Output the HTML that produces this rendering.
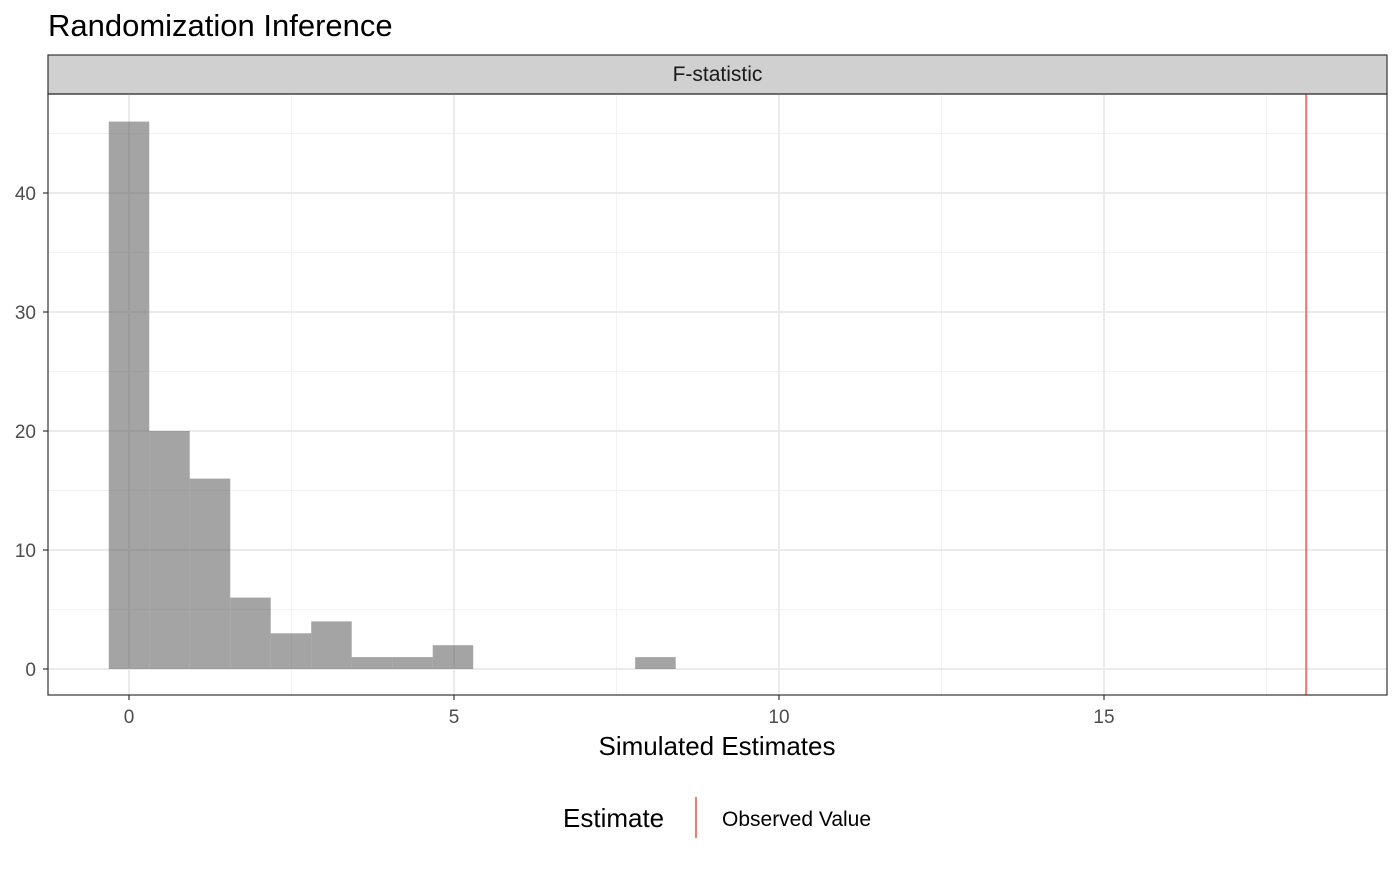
<!DOCTYPE html>
<html><head><meta charset="utf-8"><style>
body{margin:0;background:#fff;font-family:"Liberation Sans",Arial,sans-serif}
</style></head><body>
<svg id="chart" width="1400" height="865" xmlns="http://www.w3.org/2000/svg" font-family="Liberation Sans, Arial, sans-serif">
<text x="48" y="36" font-size="31" fill="#000">Randomization Inference</text>
<rect x="48" y="55" width="1339" height="39" fill="#d0d0d0" stroke="#333" stroke-width="1.2"/>
<text x="717.5" y="81" font-size="21" text-anchor="middle" fill="#1a1a1a">F-statistic</text>
<g id="grid"></g>
<g id="bars"></g>
<g id="obs"></g>
<rect x="48" y="94" width="1339" height="601" fill="none" stroke="#333" stroke-width="1.2"/>
<g id="axes"></g>
<text x="717" y="755" font-size="26" text-anchor="middle" fill="#000">Simulated Estimates</text>
<g>
<text x="563" y="827" font-size="26" fill="#000">Estimate</text>
<line x1="696" y1="797" x2="696" y2="838" stroke="#f8766d" stroke-width="2"/>
<text x="722" y="826" font-size="21" fill="#000">Observed Value</text>
</g>
</svg>
<script>
const binStart = -0.3115;
const binWidth = 0.623;
const counts = [46,20,16,6,3,4,1,1,2,0,0,0,0,1];
const xTicks = [0,5,10,15];
const yTicks = [0,10,20,30,40];
const xMinor = [2.5,7.5,12.5,17.5];
const yMinor = [5,15,25,35,45];
const observed = [18.11];
const NS='http://www.w3.org/2000/svg';
const X=v=>129+v*65, Y=v=>669-v*11.9;
function mk(tag,attrs,parent){const e=document.createElementNS(NS,tag);for(const k in attrs)e.setAttribute(k,attrs[k]);document.getElementById(parent).appendChild(e);return e;}
xMinor.forEach(v=>{const e=mk('line',{x1:X(v),x2:X(v),y1:94,y2:695,stroke:'#f2f2f2','stroke-width':1},'grid');

});
yMinor.forEach(v=>{const e=mk('line',{x1:48,x2:1387,y1:Y(v),y2:Y(v),stroke:'#f2f2f2','stroke-width':1},'grid');

});
xTicks.forEach(v=>{const e=mk('line',{x1:X(v),x2:X(v),y1:94,y2:695,stroke:'#ebebeb','stroke-width':2},'grid');


const t=mk('line',{x1:X(v),x2:X(v),y1:695,y2:700,stroke:'#333','stroke-width':1.2},'axes');


const l=mk('text',{x:X(v),y:723,'font-size':19,'text-anchor':'middle',fill:'#4d4d4d'},'axes');l.textContent=v;

});
yTicks.forEach(v=>{const e=mk('line',{x1:48,x2:1387,y1:Y(v),y2:Y(v),stroke:'#ebebeb','stroke-width':2},'grid');


const t=mk('line',{x1:43,x2:48,y1:Y(v),y2:Y(v),stroke:'#333','stroke-width':1.2},'axes');


const l=mk('text',{x:36,y:Y(v)+7,'font-size':19,'text-anchor':'end',fill:'#4d4d4d'},'axes');l.textContent=v;

});
counts.forEach((c,i)=>{const x0=X(binStart+i*binWidth),x1=X(binStart+(i+1)*binWidth);
const b=mk('rect',{x:x0,y:Y(c),width:x1-x0,height:Y(0)-Y(c),fill:'#595959','fill-opacity':0.55},'bars');

});
observed.forEach(v=>{const e=mk('line',{x1:X(v),x2:X(v),y1:94,y2:695,stroke:'#f8766d','stroke-width':2},'obs');

});
</script>
</body></html>
